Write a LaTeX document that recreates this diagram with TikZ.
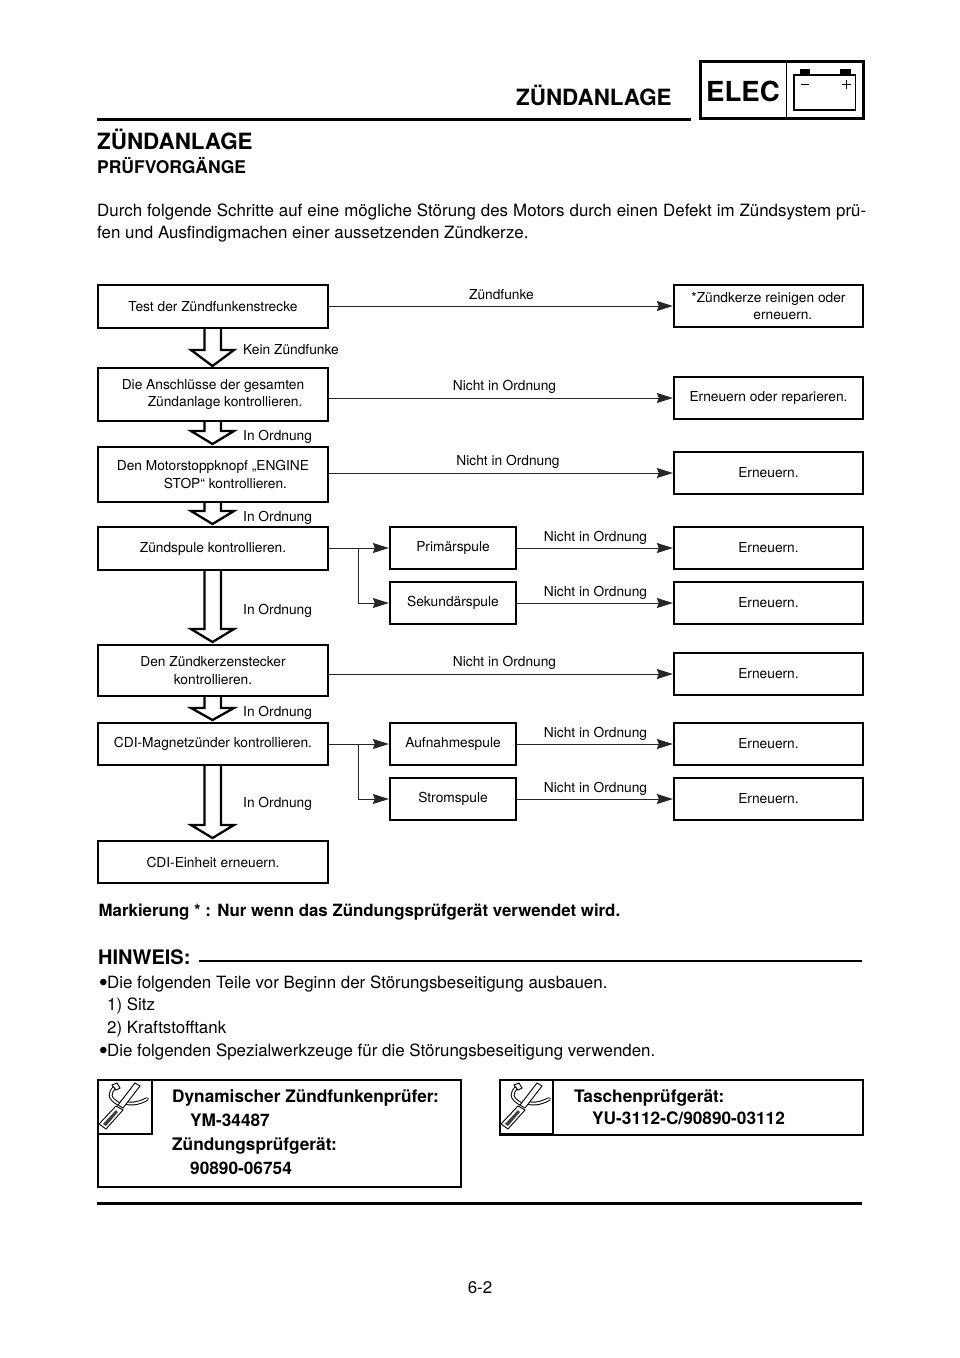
\documentclass[tikz,border=0pt]{standalone}
\usepackage{fontspec}
\setmainfont{TeX Gyre Heros}
\usetikzlibrary{arrows.meta,calc}
\tikzset{
  x=1pt,y=-1pt,
  flowbox/.style={draw=black,line width=2.3pt,fill=white,inner sep=0pt,font=\fontsize{13.75}{17.5}\selectfont,align=left},
  flowlabel/.style={inner sep=0pt,font=\fontsize{13.75}{16}\selectfont,anchor=base},
  flowline/.style={draw=black!85,line width=1pt},
  flowarrow/.style={flowline,-{Stealth[length=16pt,width=10pt,inset=2pt]}},
  blockarrow/.style={draw=black,line width=2.3pt,fill=white,line join=miter},
  pagetext/.style={inner sep=0pt,anchor=base west,font=\fontsize{16.9}{22}\selectfont},
  boldtext/.style={pagetext,font=\fontsize{17.25}{22}\selectfont\bfseries},
  heavyrule/.style={draw=black,line width=2.6pt},
  toolbox/.style={draw=black,line width=2.3pt},
  bigtitle/.style={pagetext,font=\fontsize{22.4}{26}\selectfont\bfseries},
}
\newcommand{\bigbullet}{\makebox[9pt][l]{\hspace*{.6pt}\fontsize{26}{22}\selectfont\raisebox{-3pt}{•}}}
\newcommand{\flowbx}[6]{\node[flowbox,minimum width=#4-#2-2pt,minimum height=#5-#3-2pt] (#1) at ({(#2+#4)/2},{(#3+#5)/2}) {#6};}
\newcommand{\blockarr}[3]{% tip y, shoulder y, top y
  \draw[blockarrow] (204.5,#3) -- (204.5,#2) -- (191,#2) -- (212.5,#1) -- (234,#2) -- (221,#2) -- (221,#3);}
\newcommand{\toolicon}[2]{%
  \begin{scope}[shift={(#1,#2)}]
    \draw[line width=3.8pt,black,line cap=round] (18,8) .. controls (12,14) and (11,19) .. (22,25);
    \draw[line width=1.8pt,white,line cap=round] (18,8) .. controls (12,14) and (11,19) .. (22,25);
    \draw[fill=white,line width=.9pt] (15,6) -- (20,4) -- (23,9) -- (19,11) -- cycle;
    \draw[line width=3.8pt,black,line cap=round] (25,22.5) .. controls (32,26) and (41,25) .. (50,20);
    \draw[line width=1.8pt,white,line cap=round] (25,22.5) .. controls (32,26) and (41,25) .. (50,20);
    \draw[fill=white,line width=.9pt] (38,4) -- (43,7) -- (26,29) -- (21,26) -- cycle;
    \draw[fill=white,line width=.9pt] (19,27) -- (26,31) -- (9,50) -- (2,45) -- cycle;
    \fill[black!75] (19,31) -- (21,33) -- (9,47) -- (6,45) -- cycle;
  \end{scope}}
\begin{document}
\begin{tikzpicture}
\useasboundingbox (0,0) rectangle (960,1358);
\fill[white] (0,0) rectangle (960,1358);
% header
\draw[heavyrule] (97,119.5) -- (691,119.5);
\node[bigtitle] (hdr) at (516,105) {ZÜNDANLAGE};
\node[draw=black,line width=2.3pt,minimum width=163pt,minimum height=57pt,inner sep=0pt] (elecbox) at (782,90) {};
\draw[line width=.8pt] (786.5,61.5) -- (786.5,118.5);
\node[inner sep=0pt,anchor=base,font=\fontsize{27.6}{30}\selectfont\bfseries] (elec) at (743,101) {ELEC};
\draw[line width=1.6pt] (794,75) rectangle (855.5,110);
\fill (800,69) rectangle (810,75);
\fill (840,69) rectangle (851,75);
\draw[line width=.8pt] (801,84) -- (808.5,84);
\draw[line width=.8pt] (841.5,84) -- (850.5,84) (846,79.5) -- (846,88.5);
% headings
\node[bigtitle] (t1) at (97,149) {ZÜNDANLAGE};
\node[boldtext,font=\fontsize{17.5}{22}\selectfont\bfseries] (t2) at (97,173) {PRÜFVORGÄNGE};
\node[pagetext] (p1) at (97,216) {\makebox[769pt][s]{Durch folgende Schritte auf eine mögliche Störung des Motors durch einen Defekt im Zündsystem prü-}};
\node[pagetext] (p2) at (97,238) {fen und Ausfindigmachen einer aussetzenden Zündkerze.};
% block arrows
\blockarr{366}{350}{329}
\blockarr{444}{431}{421}
\blockarr{524}{511}{503}
\blockarr{642}{629}{570}
\blockarr{720}{708}{697}
\blockarr{838}{825}{766}
% left column
\flowbx{a}{97}{284}{329}{329}{Test der Zündfunkenstrecke}
\flowbx{b}{97}{367}{329}{422}{Die Anschlüsse der gesamten\\\hspace*{26pt}Zündanlage kontrollieren.}
\flowbx{c}{97}{446}{329}{503}{Den Motorstoppknopf „ENGINE\\\hspace*{47pt}STOP“ kontrollieren.}
\flowbx{d}{97}{526}{329}{571}{Zündspule kontrollieren.}
\node[flowbox,align=center,minimum width=230pt,minimum height=51pt] (e) at (213,670.5) {Den Zündkerzenstecker\\kontrollieren.};
\flowbx{f}{97}{722}{329}{766}{CDI-Magnetzünder kontrollieren.}
\flowbx{g}{97}{840}{329}{884}{CDI-Einheit erneuern.}
% middle column
\flowbx{m1}{389}{526}{517}{570}{Primärspule}
\flowbx{m2}{389}{581}{517}{625}{Sekundärspule}
\flowbx{m3}{389}{722}{517}{766}{Aufnahmespule}
\flowbx{m4}{389}{777}{517}{821}{Stromspule}
% right column
\flowbx{r1}{673}{284}{864}{328}{*Zündkerze reinigen oder\\\hspace*{62pt}erneuern.}
\flowbx{r2}{673}{376}{864}{420}{Erneuern oder reparieren.}
\flowbx{r3}{673}{451}{864}{495}{Erneuern.}
\flowbx{r4}{673}{526}{864}{570}{Erneuern.}
\flowbx{r5}{673}{581}{864}{625}{Erneuern.}
\flowbx{r6}{673}{652}{864}{696}{Erneuern.}
\flowbx{r7}{673}{722}{864}{766}{Erneuern.}
\flowbx{r8}{673}{777}{864}{821}{Erneuern.}
% connectors
\foreach \s/\t in {a/r1,b/r2,c/r3,e/r6,m1/r4,m2/r5,m3/r7,m4/r8}
  \draw[flowarrow] (\s.east |- \t.west) -- (\t.west);
\coordinate (j1) at (358.5,548);
\coordinate (j2) at (358.5,743.5);
\draw[flowarrow] (d.east |- m1.west) -- (m1.west);
\draw[flowarrow] (j1) |- (m2.west);
\draw[flowarrow] (f.east |- m3.west) -- (m3.west);
\draw[flowarrow] (j2) |- (m4.west);
% labels
\node[flowlabel] (l1) at (501.5,299) {Zündfunke};
\node[flowlabel,anchor=base west] (l2) at (243,354.5) {Kein Zündfunke};
\node[flowlabel] (l3) at (504.5,390) {Nicht in Ordnung};
\node[flowlabel,anchor=base west] (l4) at (243,440.5) {In Ordnung};
\node[flowlabel] (l5) at (508,465.5) {Nicht in Ordnung};
\node[flowlabel,anchor=base west] (l6) at (243,521) {In Ordnung};
\node[flowlabel] (l7) at (595.5,541.5) {Nicht in Ordnung};
\node[flowlabel] (l8) at (595.5,596.5) {Nicht in Ordnung};
\node[flowlabel,anchor=base west] (l9) at (243,614) {In Ordnung};
\node[flowlabel] (l10) at (504.5,666) {Nicht in Ordnung};
\node[flowlabel,anchor=base west] (l11) at (243,716.5) {In Ordnung};
\node[flowlabel] (l12) at (595.5,737) {Nicht in Ordnung};
\node[flowlabel] (l13) at (595.5,792) {Nicht in Ordnung};
\node[flowlabel,anchor=base west] (l14) at (243,807) {In Ordnung};
% notes
\node[boldtext,font=\fontsize{16.85}{20}\selectfont\bfseries] (mk) at (98.5,916) {Markierung * : Nur wenn das Zündungsprüfgerät verwendet wird.};
\node[boldtext,font=\fontsize{20}{22}\selectfont\bfseries] (hw) at (98,964) {HINWEIS:};
\draw[heavyrule] (199,961) -- (862,961);
\node[pagetext] (n1) at (98,988) {\bigbullet Die folgenden Teile vor Beginn der Störungsbeseitigung ausbauen.};
\node[pagetext] (n2) at (107,1010) {1) Sitz};
\node[pagetext] (n3) at (107,1033) {2) Kraftstofftank};
\node[pagetext] (n4) at (98,1056) {\bigbullet Die folgenden Spezialwerkzeuge für die Störungsbeseitigung verwenden.};
% tool boxes
\draw[toolbox] (98,1080) rectangle (461,1187);
\draw[toolbox] (98,1134) -| (152,1080);
\toolicon{97}{1079}
\node[boldtext] (k1) at (172,1102) {Dynamischer Zündfunkenprüfer:};
\node[boldtext] (k2) at (190,1126) {YM-34487};
\node[boldtext] (k3) at (172,1150) {Zündungsprüfgerät:};
\node[boldtext] (k4) at (190,1174) {90890-06754};
\draw[toolbox] (500,1080) rectangle (863,1135);
\draw[toolbox] (500,1134) -| (553,1080);
\toolicon{499}{1079}
\node[boldtext] (k5) at (574,1102) {Taschenprüfgerät:};
\node[boldtext] (k6) at (592,1124) {YU-3112-C/90890-03112};
% footer
\draw[heavyrule] (97,1203.5) -- (862,1203.5);
\node[pagetext,anchor=base] (pg) at (480,1293) {6-2};
\end{tikzpicture}
\end{document}
